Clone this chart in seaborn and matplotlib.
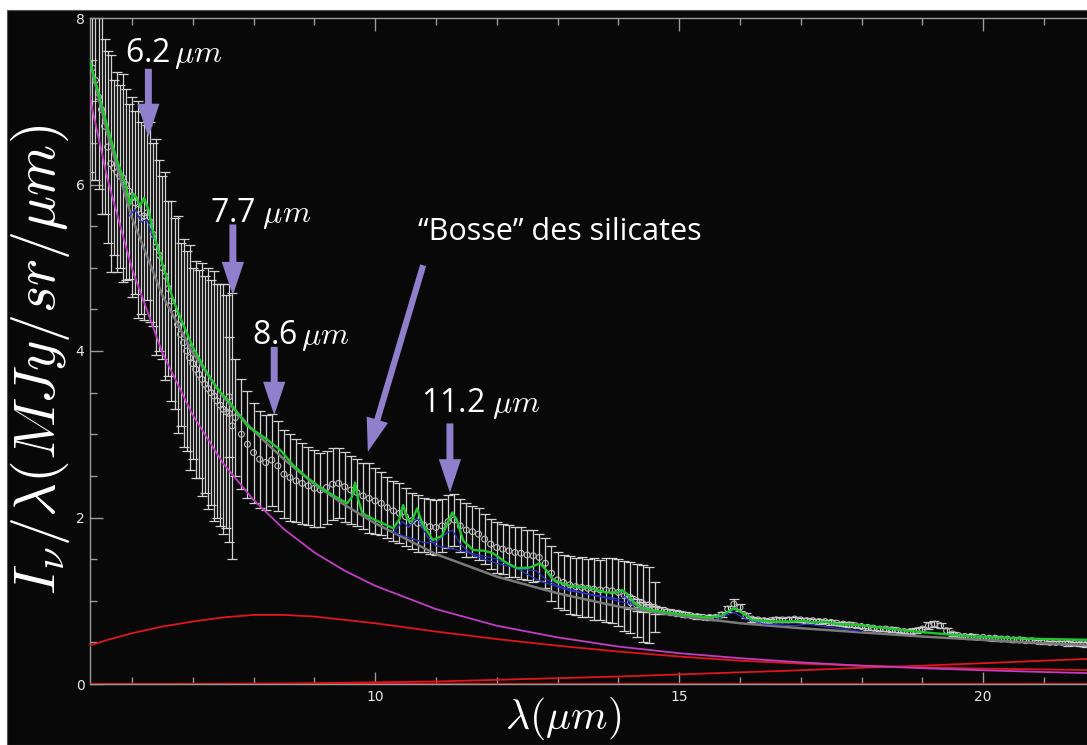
import numpy as np
import pandas as pd
import matplotlib
matplotlib.use("Agg")
import matplotlib.pyplot as plt
import seaborn as sns
from matplotlib.patches import Rectangle
from matplotlib.ticker import MultipleLocator

# ---------------- data: observed spectrum (three modules) ----------------
sl2_wave = [5.30, 5.35, 5.40, 5.45, 5.50, 5.55, 5.60, 5.65, 5.70, 5.75, 5.80, 5.85,
            5.90, 5.95, 6.00, 6.05, 6.10, 6.15, 6.20, 6.25, 6.30, 6.35, 6.40, 6.45,
            6.50, 6.55, 6.60, 6.65, 6.70, 6.75, 6.80, 6.85, 6.90, 6.95, 7.00, 7.05,
            7.10, 7.15, 7.20, 7.25, 7.30, 7.35, 7.40, 7.45, 7.50, 7.55, 7.60, 7.65]
sl2_flux = [7.45, 7.40, 7.25, 7.05, 6.90, 6.70, 6.45, 6.25, 6.20, 6.15, 6.10, 6.08,
            6.00, 5.92, 5.85, 5.78, 5.70, 5.60, 5.62, 5.66, 5.55, 5.40, 5.25, 5.15,
            5.00, 4.90, 4.75, 4.60, 4.45, 4.32, 4.20, 4.10, 4.00, 3.92, 3.85, 3.78,
            3.72, 3.66, 3.60, 3.55, 3.50, 3.46, 3.40, 3.35, 3.30, 3.27, 3.25, 3.10]
sl2_err = [1.30, 1.35, 1.20, 1.10, 1.25, 1.05, 1.15, 1.30, 1.05, 1.20, 1.10, 1.25,
           1.15, 1.05, 1.20, 1.10, 1.30, 1.15, 1.25, 1.05, 1.20, 1.10, 1.30, 1.15,
           1.10, 1.25, 1.05, 1.20, 1.15, 1.30, 1.10, 1.25, 1.20, 1.35, 1.15, 1.30,
           1.25, 1.40, 1.30, 1.45, 1.35, 1.50, 1.40, 1.45, 1.50, 1.40, 1.55, 1.60]

sl1_wave = [7.6, 7.7, 7.8, 7.9, 8.0, 8.1, 8.2, 8.3, 8.4, 8.5, 8.6, 8.7, 8.8, 8.9,
            9.0, 9.1, 9.2, 9.3, 9.4, 9.5, 9.6, 9.7, 9.8, 9.9, 10.0, 10.1, 10.2, 10.3,
            10.4, 10.5, 10.6, 10.7, 10.8, 10.9, 11.0, 11.1, 11.2, 11.3, 11.4, 11.5,
            11.6, 11.7, 11.8, 11.9, 12.0, 12.1, 12.2, 12.3, 12.4, 12.5, 12.6, 12.7,
            12.8, 12.9, 13.0, 13.1, 13.2, 13.3, 13.4, 13.5, 13.6, 13.7, 13.8, 13.9,
            14.0, 14.1, 14.2, 14.3, 14.4, 14.5, 14.6]
sl1_flux = [3.45, 3.20, 3.00, 2.88, 2.78, 2.70, 2.66, 2.69, 2.62, 2.52, 2.48, 2.44,
            2.41, 2.38, 2.35, 2.33, 2.36, 2.40, 2.41, 2.37, 2.33, 2.30, 2.26, 2.23,
            2.20, 2.17, 2.12, 2.08, 2.05, 2.01, 1.96, 1.93, 1.91, 1.89, 1.88, 1.90,
            1.95, 1.97, 1.90, 1.85, 1.83, 1.80, 1.74, 1.68, 1.64, 1.62, 1.60, 1.58,
            1.57, 1.55, 1.54, 1.52, 1.45, 1.33, 1.25, 1.22, 1.19, 1.17, 1.16, 1.15,
            1.14, 1.13, 1.13, 1.12, 1.10, 1.06, 1.04, 1.00, 0.97, 0.95, 0.92]
sl1_err = [0.72, 0.70, 0.66, 0.64, 0.60, 0.58, 0.57, 0.55, 0.54, 0.53, 0.52, 0.50,
           0.49, 0.47, 0.46, 0.45, 0.44, 0.43, 0.42, 0.42, 0.41, 0.40, 0.40, 0.42,
           0.40, 0.38, 0.37, 0.36, 0.36, 0.35, 0.34, 0.34, 0.33, 0.33, 0.33, 0.32,
           0.32, 0.31, 0.32, 0.32, 0.31, 0.31, 0.30, 0.30, 0.31, 0.30, 0.31, 0.30,
           0.31, 0.30, 0.31, 0.28, 0.30, 0.33, 0.34, 0.33, 0.35, 0.34, 0.36, 0.35,
           0.37, 0.36, 0.38, 0.39, 0.40, 0.42, 0.43, 0.44, 0.46, 0.46, 0.30]

ll_wave = [14.2, 14.3, 14.4, 14.5, 14.6, 14.7, 14.8, 14.9, 15.0, 15.1, 15.2, 15.3,
           15.4, 15.5, 15.6, 15.7, 15.8, 15.9, 16.0, 16.1, 16.2, 16.3, 16.4, 16.5,
           16.6, 16.7, 16.8, 16.9, 17.0, 17.1, 17.2, 17.3, 17.4, 17.5, 17.6, 17.7,
           17.8, 17.9, 18.0, 18.1, 18.2, 18.3, 18.4, 18.5, 18.6, 18.7, 18.8, 18.9,
           19.0, 19.1, 19.2, 19.3, 19.4, 19.5, 19.6, 19.7, 19.8, 19.9, 20.0, 20.1,
           20.2, 20.3, 20.4, 20.5, 20.6, 20.7, 20.8, 20.9, 21.0, 21.1, 21.2, 21.3,
           21.4, 21.5, 21.6, 21.7, 21.8]
ll_flux = [0.98, 0.95, 0.93, 0.91, 0.89, 0.88, 0.87, 0.86, 0.85, 0.83, 0.82, 0.81,
           0.80, 0.80, 0.80, 0.83, 0.90, 0.96, 0.92, 0.82, 0.78, 0.77, 0.76, 0.76,
           0.77, 0.77, 0.77, 0.78, 0.77, 0.76, 0.76, 0.75, 0.75, 0.74, 0.73, 0.72,
           0.71, 0.70, 0.69, 0.68, 0.67, 0.66, 0.66, 0.65, 0.64, 0.63, 0.63, 0.64,
           0.66, 0.70, 0.72, 0.70, 0.64, 0.60, 0.58, 0.57, 0.57, 0.56, 0.56, 0.55,
           0.55, 0.54, 0.54, 0.53, 0.53, 0.52, 0.52, 0.51, 0.51, 0.50, 0.50, 0.50,
           0.49, 0.49, 0.48, 0.48, 0.47]
ll_err = [0.08, 0.07, 0.06, 0.05, 0.05, 0.04, 0.03, 0.03, 0.03, 0.03, 0.02, 0.03,
          0.02, 0.03, 0.03, 0.03, 0.04, 0.06, 0.04, 0.03, 0.03, 0.02, 0.03, 0.02,
          0.03, 0.02, 0.03, 0.03, 0.02, 0.03, 0.02, 0.03, 0.02, 0.03, 0.02, 0.02,
          0.03, 0.02, 0.02, 0.03, 0.02, 0.02, 0.02, 0.03, 0.02, 0.02, 0.03, 0.03,
          0.03, 0.04, 0.04, 0.03, 0.03, 0.02, 0.02, 0.02, 0.03, 0.02, 0.02, 0.02,
          0.03, 0.02, 0.02, 0.02, 0.03, 0.02, 0.02, 0.02, 0.03, 0.02, 0.02, 0.02,
          0.03, 0.02, 0.02, 0.03, 0.03]

# ---------------- data: model components ----------------
model_wave = [5.3, 5.6, 6.0, 6.5, 7.0, 7.5, 8.0, 8.5, 9.0, 9.5, 10.0, 11.0, 12.0,
              13.0, 14.0, 15.0, 16.0, 17.0, 18.0, 19.0, 20.0, 21.0, 22.0]
stellar = [7.07, 6.06, 4.99, 3.98, 3.23, 2.65, 2.21, 1.86, 1.58, 1.36, 1.18, 0.90,
           0.70, 0.56, 0.45, 0.37, 0.31, 0.26, 0.22, 0.19, 0.165, 0.144, 0.126]
warm_dust = [0.46, 0.53, 0.61, 0.69, 0.75, 0.80, 0.83, 0.83, 0.81, 0.77, 0.73, 0.63,
             0.54, 0.46, 0.39, 0.33, 0.28, 0.245, 0.22, 0.20, 0.185, 0.175, 0.165]
cold_dust = [0.0, 0.0, 0.0, 0.001, 0.002, 0.003, 0.005, 0.007, 0.01, 0.015, 0.02,
             0.03, 0.05, 0.07, 0.09, 0.115, 0.14, 0.165, 0.195, 0.22, 0.25, 0.28, 0.31]
zero_level = [0.0] * 23
continuum = [7.50, 6.60, 5.60, 4.67, 3.98, 3.45, 3.04, 2.70, 2.40, 2.15, 1.93, 1.56,
             1.29, 1.09, 0.93, 0.82, 0.73, 0.67, 0.62, 0.57, 0.53, 0.49, 0.46]

total_wave = [5.30, 5.45, 5.60, 5.75, 5.90, 5.97, 6.02, 6.08, 6.13, 6.20, 6.27, 6.35,
              6.50, 6.68, 6.79, 7.00, 7.20, 7.40, 7.62, 7.90, 8.20, 8.44, 8.65, 8.88,
              9.10, 9.30, 9.54, 9.62, 9.67, 9.72, 9.79, 10.00, 10.30, 10.40, 10.46,
              10.53, 10.60, 10.69, 10.78, 10.95, 11.10, 11.20, 11.27, 11.35, 11.45,
              11.61, 11.80, 11.94, 12.15, 12.34, 12.55, 12.71, 12.80, 12.93, 13.20,
              13.54, 13.80, 14.00, 14.06, 14.15, 14.25, 14.36, 14.60, 14.90, 15.20,
              15.50, 15.70, 15.90, 16.05, 16.20, 16.50, 16.83, 17.05, 17.20, 17.40,
              17.60, 17.93, 18.30, 18.75, 19.20, 19.84, 20.50, 21.00, 21.80]
total_model = [7.50, 7.10, 6.68, 6.30, 5.98, 5.76, 5.89, 5.84, 5.74, 5.84, 5.70, 5.42,
               5.05, 4.61, 4.41, 4.05, 3.78, 3.55, 3.37, 3.10, 2.95, 2.81, 2.63, 2.48,
               2.36, 2.27, 2.17, 2.25, 2.42, 2.22, 2.05, 1.97, 1.87, 1.98, 2.15,
               1.98, 1.95, 2.11, 1.92, 1.73, 1.78, 1.95, 2.06, 1.95, 1.72,
               1.61, 1.60, 1.57, 1.46, 1.39, 1.40, 1.45, 1.38, 1.25, 1.18,
               1.15, 1.10, 1.10, 1.13, 1.08, 0.98, 0.92, 0.88, 0.85, 0.82,
               0.80, 0.82, 0.91, 0.85, 0.77, 0.75, 0.75, 0.76, 0.74, 0.75,
               0.72, 0.71, 0.68, 0.64, 0.61, 0.57, 0.55, 0.54, 0.53]

feat_a_wave = [10.30, 10.80, 11.00, 11.15, 11.27, 11.40, 11.60, 12.00, 12.40, 12.65,
               12.80, 13.00, 13.50, 14.00, 14.10, 14.25, 14.50]
feat_a = [1.82, 1.70, 1.70, 1.80, 1.85, 1.68, 1.55, 1.45, 1.38, 1.36,
          1.26, 1.18, 1.08, 1.02, 1.05, 0.95, 0.90]
feat_b_wave = [10.30, 10.45, 10.55, 10.69, 10.85, 11.00, 11.30, 11.70, 12.00, 12.30,
               12.70, 13.20, 13.70, 14.20]
feat_b = [1.82, 1.95, 1.88, 2.00, 1.78, 1.66, 1.62, 1.55, 1.50, 1.40,
          1.24, 1.12, 1.05, 0.96]
feat_c_wave = [15.60, 15.90, 16.10, 16.40, 16.90, 17.10, 17.40, 17.60, 18.00]
feat_c = [0.78, 0.86, 0.78, 0.72, 0.70, 0.72, 0.69, 0.67, 0.63]
feat_d_wave = [5.95, 6.05, 6.15, 6.25, 6.35]
feat_d = [5.62, 5.70, 5.55, 5.58, 5.35]

# annotations: label, text position (x, y), arrow tail, arrow tip
band_labels = [r"6.2$\,\mu m$", r"7.7$\;\mu m$", r"8.6$\,\mu m$", r"11.2$\;\mu m$"]
band_text_xy = [(6.69, 7.57), (8.11, 5.65), (8.78, 4.19), (11.73, 3.37)]
band_arrow_tail = [(6.27, 7.39), (7.66, 5.52), (8.34, 4.05), (11.23, 3.13)]
band_arrow_tip = [(6.27, 6.57), (7.66, 4.67), (8.34, 3.23), (11.23, 2.30)]
hump_label = "\u201cBosse\u201d des silicates"

# ---------------- styling ----------------
sns.set_theme(style="dark")
plt.rcParams["font.family"] = ["DejaVu Sans"]
plt.rcParams["mathtext.fontset"] = "cm"

BG = "#080808"
fig = plt.figure(figsize=(10.87, 7.45), dpi=100, facecolor="white")
fig.patches.append(Rectangle((7 / 1087, 0), 1, (745 - 10) / 745,
                             transform=fig.transFigure, facecolor=BG,
                             edgecolor="#555555", lw=0.8, zorder=-10))
ax = fig.add_axes([90 / 1087, 61 / 745, (1095 - 90) / 1087, 666 / 745])
ax.set_facecolor(BG)

# error bars and data points
err_kw = dict(fmt="none", ecolor="#d2d2d2", elinewidth=0.9, capsize=3.5,
              capthick=0.9, zorder=2)
for w, f, e in [(sl2_wave, sl2_flux, sl2_err), (sl1_wave, sl1_flux, sl1_err),
                (ll_wave, ll_flux, ll_err)]:
    ax.errorbar(w, f, yerr=e, **err_kw)
    ax.scatter(w, f, s=18, facecolors="none", edgecolors="#bdbdbd",
               linewidths=0.8, zorder=3)

def line(xv, yv, color, lw, z):
    df = pd.DataFrame({"x": xv, "y": yv})
    sns.lineplot(data=df, x="x", y="y", ax=ax, color=color, lw=lw,
                 sort=False, estimator=None, zorder=z)

line(model_wave, zero_level, "#e0161c", 1.4, 4)
line(model_wave, cold_dust, "#e0161c", 1.3, 4)
line(model_wave, warm_dust, "#e0161c", 1.3, 4)
line(model_wave, stellar, "#c23cc4", 1.3, 4)
line(model_wave, continuum, "#7a7a7a", 1.8, 4)
for fw, fv in [(feat_a_wave, feat_a), (feat_b_wave, feat_b),
               (feat_c_wave, feat_c), (feat_d_wave, feat_d)]:
    line(fw, fv, "#2a35c8", 0.9, 5)
line(total_wave, total_model, "#1fc72f", 1.7, 6)

# axes
ax.set_xlim(5.31, 21.84)
ax.set_ylim(0, 8)
ax.xaxis.set_major_locator(MultipleLocator(5))
ax.xaxis.set_minor_locator(MultipleLocator(1))
ax.yaxis.set_major_locator(MultipleLocator(2))
ax.yaxis.set_minor_locator(MultipleLocator(0.5))
ax.tick_params(which="both", direction="in", top=True, right=False,
               bottom=True, left=True, colors="#9a9a9a", labelcolor="#e6e6e6",
               labelsize=10, width=1)
ax.tick_params(which="major", length=9, pad=4)
ax.tick_params(which="minor", length=5)
for s in ["left", "bottom", "top"]:
    ax.spines[s].set_color("#9a9a9a")
    ax.spines[s].set_linewidth(1)
ax.spines["right"].set_visible(False)
ax.grid(False)
ax.set_xlabel("")
ax.set_ylabel("")

fig.text(40 / 1087, 1 - 360 / 745, r"$I_\nu/\lambda(MJy/sr/\mu m)$",
         rotation=90, ha="center", va="center", color="white", fontsize=42)
fig.text(563 / 1087, 1 - 718 / 745, r"$\lambda(\mu m)$", ha="center",
         va="center", color="white", fontsize=30)

arrow_color = "#8f7fcc"
for lab, txy, tail, tip in zip(band_labels, band_text_xy, band_arrow_tail,
                               band_arrow_tip):
    ax.text(txy[0], txy[1], lab, ha="center", va="center", color="white",
            fontsize=23, family="Open Sans", zorder=10)
    ax.annotate("", xy=tip, xytext=tail,
                arrowprops=dict(arrowstyle="simple,head_length=2.4,head_width=1.6,tail_width=0.5",
                                mutation_scale=10, color=arrow_color, lw=0,
                                shrinkA=0, shrinkB=0), zorder=10)

ax.text(13.03, 5.43, hump_label, ha="center", va="center", color="white",
        fontsize=22, family="Open Sans", zorder=10)
ax.annotate("", xy=(9.88, 2.79), xytext=(10.79, 5.03),
            arrowprops=dict(arrowstyle="simple,head_length=2.4,head_width=1.6,tail_width=0.45",
                            mutation_scale=10, color=arrow_color, lw=0,
                            shrinkA=0, shrinkB=0), zorder=10)

fig.savefig("out.png", dpi=100, facecolor=fig.get_facecolor())
